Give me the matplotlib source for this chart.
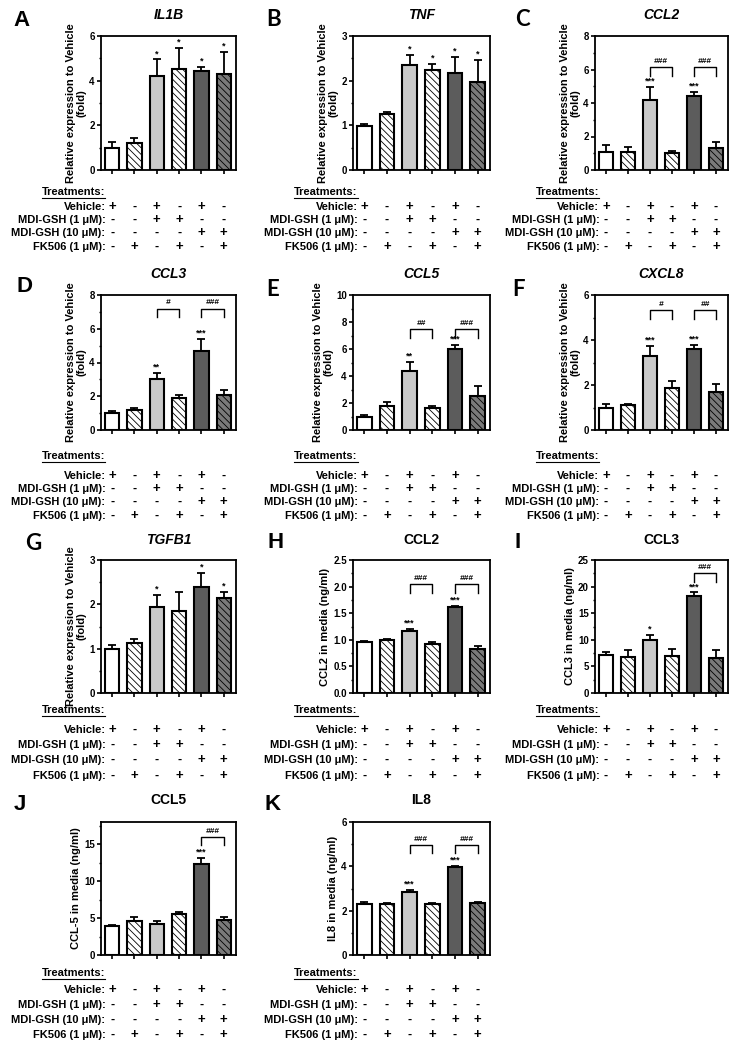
import numpy as np
import matplotlib
matplotlib.use('Agg')
import matplotlib.pyplot as plt
import matplotlib.transforms as mtransforms
from matplotlib.lines import Line2D
from matplotlib.ticker import MultipleLocator, FormatStrFormatter

plt.rcParams['font.family'] = ['Liberation Sans', 'DejaVu Sans']
plt.rcParams['font.weight'] = 'bold'
plt.rcParams['axes.labelweight'] = 'bold'
plt.rcParams['hatch.linewidth'] = 0.6

W, H = 740, 1050

# treatment table (same for every panel)
ROW_LABELS = ['Vehicle:', 'MDI-GSH (1 \u03bcM):', 'MDI-GSH (10 \u03bcM):', 'FK506 (1 \u03bcM):']
VEHICLE = ['+', '-', '+', '-', '+', '-']
MDI_1 = ['-', '-', '+', '+', '-', '-']
MDI_10 = ['-', '-', '-', '-', '+', '+']
FK506 = ['-', '+', '-', '+', '-', '+']

# panel data: mean, error (upper), significance marks
IL1B_MEAN = [1.0, 1.2, 4.2, 4.52, 4.42, 4.3]
IL1B_ERR = [0.27, 0.22, 0.75, 0.95, 0.2, 1.0]
IL1B_STARS = ['', '', '*', '*', '*', '*']

TNF_MEAN = [0.99, 1.25, 2.35, 2.25, 2.18, 1.98]
TNF_ERR = [0.05, 0.05, 0.23, 0.13, 0.35, 0.48]
TNF_STARS = ['', '', '*', '*', '*', '*']

CCL2_MEAN = [1.1, 1.1, 4.2, 1.02, 4.42, 1.3]
CCL2_ERR = [0.4, 0.25, 0.75, 0.1, 0.22, 0.4]
CCL2_STARS = ['', '', '***', '', '***', '']
CCL2_HASH = [(2, 3, '###'), (4, 5, '###')]

CCL3_MEAN = [1.0, 1.18, 3.05, 1.9, 4.7, 2.05]
CCL3_ERR = [0.15, 0.12, 0.35, 0.17, 0.7, 0.33]
CCL3_STARS = ['', '', '**', '', '***', '']
CCL3_HASH = [(2, 3, '#'), (4, 5, '###')]

CCL5_MEAN = [0.95, 1.75, 4.35, 1.65, 6.0, 2.5]
CCL5_ERR = [0.15, 0.35, 0.68, 0.15, 0.3, 0.75]
CCL5_STARS = ['', '', '**', '', '***', '']
CCL5_HASH = [(2, 3, '##'), (4, 5, '###')]

CXCL8_MEAN = [1.0, 1.12, 3.3, 1.88, 3.58, 1.68]
CXCL8_ERR = [0.15, 0.04, 0.45, 0.28, 0.2, 0.35]
CXCL8_STARS = ['', '', '***', '', '***', '']
CXCL8_HASH = [(2, 3, '#'), (4, 5, '##')]

TGFB1_MEAN = [1.0, 1.12, 1.95, 1.85, 2.38, 2.15]
TGFB1_ERR = [0.08, 0.1, 0.27, 0.43, 0.32, 0.12]
TGFB1_STARS = ['', '', '*', '', '*', '*']

MCCL2_MEAN = [0.95, 0.99, 1.17, 0.93, 1.61, 0.83]
MCCL2_ERR = [0.02, 0.03, 0.03, 0.02, 0.02, 0.05]
MCCL2_STARS = ['', '', '***', '', '***', '']
MCCL2_HASH = [(2, 3, '###'), (4, 5, '###')]

MCCL3_MEAN = [7.2, 6.8, 9.9, 7.0, 18.2, 6.6]
MCCL3_ERR = [0.5, 1.2, 1.0, 1.2, 0.7, 1.5]
MCCL3_STARS = ['', '', '*', '', '***', '']
MCCL3_HASH = [(4, 5, '###')]

MCCL5_MEAN = [3.95, 4.65, 4.25, 5.6, 12.3, 4.75]
MCCL5_ERR = [0.15, 0.5, 0.4, 0.25, 0.85, 0.35]
MCCL5_STARS = ['', '', '', '', '***', '']
MCCL5_HASH = [(4, 5, '###')]

MIL8_MEAN = [2.28, 2.3, 2.85, 2.32, 3.98, 2.35]
MIL8_ERR = [0.1, 0.03, 0.1, 0.03, 0.04, 0.03]
MIL8_STARS = ['', '', '***', '', '***', '']
MIL8_HASH = [(2, 3, '###'), (4, 5, '###')]

FOLD = 'Relative expression to Vehicle\n(fold)'

# letter, title, italic, ylabel, ymax, major, minor, fmt, mean, err, stars, hash, bracket level (axes frac), row, col
PANELS = [
    ('A', 'IL1B', True, FOLD, 6, 2, 1, '%d', IL1B_MEAN, IL1B_ERR, IL1B_STARS, [], 0, 0, 0),
    ('B', 'TNF', True, FOLD, 3, 1, 0.5, '%d', TNF_MEAN, TNF_ERR, TNF_STARS, [], 0, 0, 1),
    ('C', 'CCL2', True, FOLD, 8, 2, 1, '%d', CCL2_MEAN, CCL2_ERR, CCL2_STARS, CCL2_HASH, 0.77, 0, 2),
    ('D', 'CCL3', True, FOLD, 8, 2, 1, '%d', CCL3_MEAN, CCL3_ERR, CCL3_STARS, CCL3_HASH, 0.90, 1, 0),
    ('E', 'CCL5', True, FOLD, 10, 2, 1, '%d', CCL5_MEAN, CCL5_ERR, CCL5_STARS, CCL5_HASH, 0.75, 1, 1),
    ('F', 'CXCL8', True, FOLD, 6, 2, 1, '%d', CXCL8_MEAN, CXCL8_ERR, CXCL8_STARS, CXCL8_HASH, 0.89, 1, 2),
    ('G', 'TGFB1', True, FOLD, 3, 1, 0.5, '%d', TGFB1_MEAN, TGFB1_ERR, TGFB1_STARS, [], 0, 2, 0),
    ('H', 'CCL2', False, 'CCL2 in media (ng/ml)', 2.5, 0.5, 0.25, '%.1f', MCCL2_MEAN, MCCL2_ERR, MCCL2_STARS, MCCL2_HASH, 0.82, 2, 1),
    ('I', 'CCL3', False, 'CCL3 in media (ng/ml)', 25, 5, 2.5, '%d', MCCL3_MEAN, MCCL3_ERR, MCCL3_STARS, MCCL3_HASH, 0.90, 2, 2),
    ('J', 'CCL5', False, 'CCL-5 in media (ng/ml)', 18, 5, 2.5, '%d', MCCL5_MEAN, MCCL5_ERR, MCCL5_STARS, MCCL5_HASH, 0.89, 3, 0),
    ('K', 'IL8', False, 'IL8 in media (ng/ml)', 6, 2, 1, '%d', MIL8_MEAN, MIL8_ERR, MIL8_STARS, MIL8_HASH, 0.83, 3, 1),
]

# layout in pixels
COL_LEFT = [101, 353, 595]
COL_RIGHT = [236, 490, 728]
ROW_TOP = [36, 295, 560, 822]
ROW_BOTTOM = [170, 430, 693, 955]
TITLE_Y = [15, 274, 540, 800]
TABLE_Y = [
    [192, 207, 220, 233, 247],
    [456, 476, 489, 502, 516],
    [710, 730, 745, 760, 776],
    [973, 990, 1005, 1020, 1035],
]
LETTER_POS = {'A': (22, 20), 'B': (274, 20), 'C': (522, 20), 'D': (25, 287),
              'E': (273, 290), 'F': (519, 290), 'G': (33, 543), 'H': (276, 543),
              'I': (518, 543), 'J': (20, 805), 'K': (273, 805)}
CALIBRI_LIKE = ['B', 'C', 'E', 'F', 'G']

FACES = ['white', 'white', '#c9c9c9', 'white', '#5c5c5c', '#7a7a7a']
HATCHES = [None, '\\\\\\\\\\', None, '\\\\\\\\\\', None, '\\\\\\\\\\']

fig = plt.figure(figsize=(W / 100, H / 100), dpi=100)
renderer = fig.canvas.get_renderer()


def fy(py):
    return 1 - py / H


x = np.arange(6)
for (letter, title, italic, ylabel, ymax, major, minor, fmt, mean, err,
     stars, hashes, blevel, row, col) in PANELS:
    l, r = COL_LEFT[col], COL_RIGHT[col]
    t, b = ROW_TOP[row], ROW_BOTTOM[row]
    ax = fig.add_axes([l / W, fy(b), (r - l) / W, (b - t) / H])

    bars = ax.bar(x, mean, width=0.64, color=FACES, edgecolor='black', linewidth=1.5, zorder=2)
    for bar, h in zip(bars, HATCHES):
        if h:
            bar.set_hatch(h)
    ax.errorbar(x, mean, yerr=[np.zeros(6), err], fmt='none', ecolor='black',
                elinewidth=1.3, capsize=3, capthick=1.3, zorder=1)

    ax.set_xlim(-0.5, 5.55)
    ax.set_ylim(0, ymax)
    ax.set_xticks(x)
    ax.set_xticklabels([])
    ax.yaxis.set_major_locator(MultipleLocator(major))
    ax.yaxis.set_minor_locator(MultipleLocator(minor))
    ax.yaxis.set_major_formatter(FormatStrFormatter(fmt))
    ax.tick_params(axis='both', which='major', length=3, width=1.2, labelsize=7, pad=1.5)
    ax.tick_params(axis='y', which='minor', length=1.8, width=1)
    for s in ax.spines.values():
        s.set_linewidth(1.3)
    for lab in ax.get_yticklabels():
        lab.set_fontweight('bold')
    ax.set_ylabel(ylabel, fontsize=8, fontweight='bold', labelpad=2, linespacing=1.0)

    # significance stars
    for xi, m, e, s in zip(x, mean, err, stars):
        if s:
            ax.annotate(s, (xi, m + e), xytext=(0, 1), textcoords='offset points',
                        ha='center', va='bottom', fontsize=6.5)

    # brackets
    for i, j, lab in hashes:
        yb = blevel * ymax
        drop = 0.065 * ymax
        ax.plot([i, i, j, j], [yb - drop, yb, yb, yb - drop], color='black', lw=1.0,
                clip_on=False)
        ax.text((i + j) / 2, yb + 0.015 * ymax, lab, ha='center', va='bottom',
                fontsize=6, style='italic')

    # titles and letters
    fig.text((l + r) / 2 / W, fy(TITLE_Y[row]), title, ha='center', va='center',
             fontsize=10, fontweight='bold', style='italic' if italic else 'normal')
    lx, ly = LETTER_POS[letter]
    lfam = ['Lato', 'DejaVu Sans'] if letter in CALIBRI_LIKE else ['Liberation Sans', 'DejaVu Sans']
    fig.text(lx / W, fy(ly), letter, ha='center', va='center', fontsize=16,
             fontweight='bold', family=lfam)

    # treatment table
    trans = mtransforms.blended_transform_factory(ax.transData, fig.transFigure)
    ys = TABLE_Y[row]
    tr = ax.text(-0.3, fy(ys[0]), 'Treatments:', transform=trans, ha='right',
                 va='center', fontsize=8, fontweight='bold')
    bb = tr.get_window_extent(renderer)
    fig.add_artist(Line2D([bb.x0 / W, bb.x1 / W], [(bb.y0 - 1) / H, (bb.y0 - 1) / H],
                          color='black', lw=0.8))
    for label, signs, yy in zip(ROW_LABELS, [VEHICLE, MDI_1, MDI_10, FK506], ys[1:]):
        ax.text(-0.3, fy(yy), label, transform=trans, ha='right', va='center',
                fontsize=8, fontweight='bold')
        for xi, s in zip(x, signs):
            ax.text(xi, fy(yy), s, transform=trans, ha='center', va='center',
                    fontsize=9.5 if s == '+' else 9, fontweight='bold')

fig.savefig('out.png', dpi=100)
